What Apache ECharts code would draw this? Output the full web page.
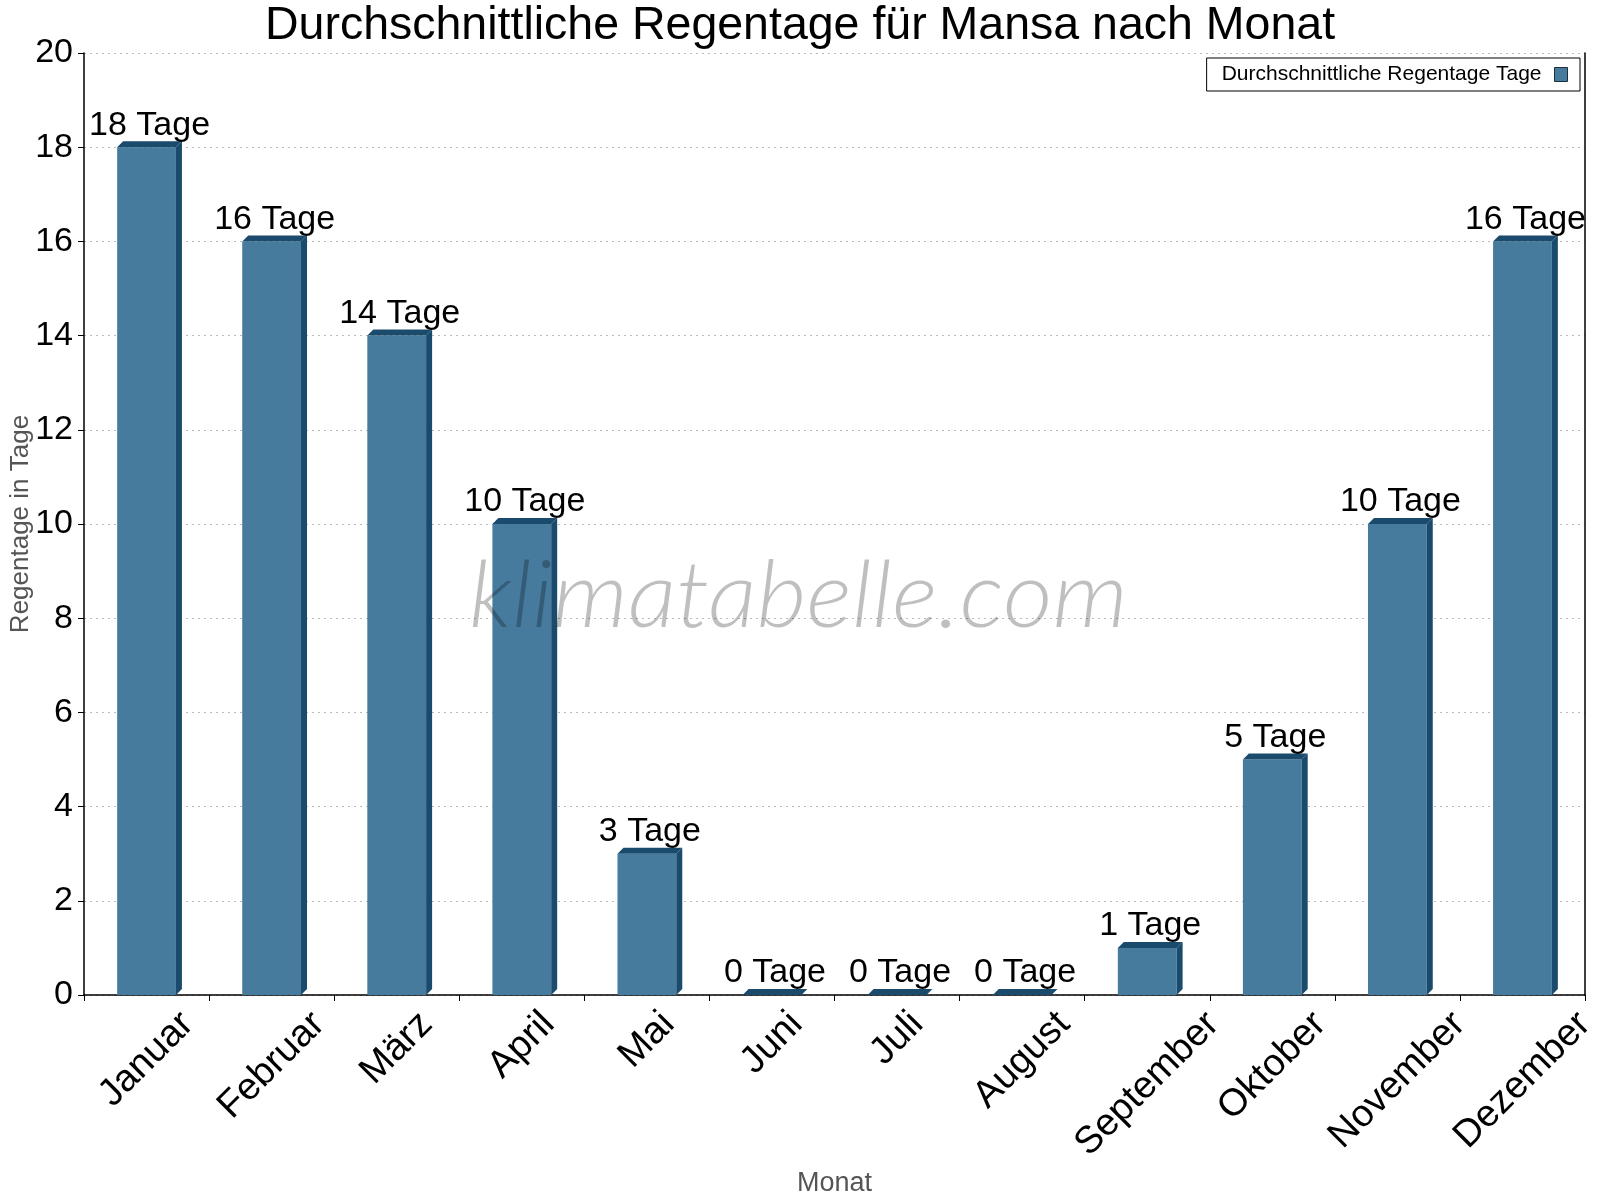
<!DOCTYPE html>
<html lang="de">
<head>
  <meta charset="UTF-8">
  <title>Regentage Mansa</title>
  <style>
    html, body { margin: 0; padding: 0; background: #fff; }
    #main { width: 1600px; height: 1200px; }
  </style>
</head>
<body>
  <div id="main"></div>
  <script src="https://cdn.jsdelivr.net/npm/echarts@6.0.0/dist/echarts.min.js"></script>
  <script>
    // Daten
    const months = ['Januar', 'Februar', 'März', 'April', 'Mai', 'Juni', 'Juli',
      'August', 'September', 'Oktober', 'November', 'Dezember'];
    const rainDays = [18, 16, 14, 10, 3, 0, 0, 0, 1, 5, 10, 16];
    const yMin = 0, yMax = 20, yStep = 2;
    const seriesName = 'Durchschnittliche Regentage Tage';

    const FONT = '"Liberation Sans", Arial, sans-serif';
    const front = '#467b9e';
    const dark = '#1a4b6d';
    const LBL = 34;      // Werte- und y-Beschriftung
    const XLBL = 38;     // Monatsnamen

    // rotierte Monatsnamen: Box oben bündig, horizontal zentriert
    const ctx = document.createElement('canvas').getContext('2d');
    ctx.font = XLBL + 'px "Liberation Sans"';
    const widths = months.map(m => ctx.measureText(m).width);
    const wMin = Math.min(...widths);
    const rich = {};
    months.forEach((m, i) => {
      const p = (widths[i] - wMin) / 2;
      rich['m' + i] = { padding: [p, p, 0, 0] };
    });
    const halfMin = 0.7071 * (wMin + XLBL) / 2;
    const labelMargin = 10 + halfMin;

    // Wasserzeichen auf Breite bringen
    const WM_FONT = 'italic 300 93px Lato';
    ctx.font = WM_FONT;
    const wmScale = 659 / ctx.measureText('klimatabelle.com').width;

    function renderBar(params, api) {
      const idx = api.value(0);
      const val = api.value(1);
      const top = api.coord([idx, val]);
      const base = api.coord([idx, 0]);
      const bw = api.size([1, 0])[0] * 0.47;
      const d = 6;
      const x0 = top[0] - bw / 2, x1 = x0 + bw;
      return {
        type: 'group',
        children: [
          { type: 'rect', shape: { x: x0, y: top[1], width: bw, height: base[1] - top[1] }, style: { fill: front } },
          { type: 'polygon', shape: { points: [[x1, top[1]], [x1 + d, top[1] - d], [x1 + d, base[1] - d], [x1, base[1]]] }, style: { fill: dark } },
          { type: 'polygon', shape: { points: [[x0, top[1]], [x0 + d, top[1] - d], [x1 + d, top[1] - d], [x1, top[1]]] }, style: { fill: dark } },
          { type: 'text', style: { text: val + ' Tage', x: top[0] + d / 2, y: top[1] - d + 1, align: 'center', verticalAlign: 'bottom', font: LBL + 'px ' + FONT, fill: '#000' } }
        ]
      };
    }

    const myChart = echarts.init(document.getElementById('main'));

    const option = {
      backgroundColor: '#fff',
      animation: false,
      title: {
        text: 'Durchschnittliche Regentage für Mansa nach Monat',
        left: 'center',
        top: 3,
        padding: 0,
        textStyle: { fontFamily: FONT, fontSize: 46.5, fontWeight: 'normal', color: '#000' }
      },
      legend: {
        data: [{ name: seriesName, icon: 'rect' }],
        right: 20,
        top: 58,
        align: 'right',
        itemWidth: 13,
        itemHeight: 14,
        padding: [6, 12, 6, 15],
        borderColor: '#000',
        borderWidth: 1,
        borderRadius: 0,
        backgroundColor: '#fff',
        itemStyle: { color: front, borderColor: '#1b2f3d', borderWidth: 1 },
        textStyle: { fontFamily: FONT, fontSize: 21, color: '#000', padding: [0, 8, 0, 0] }
      },
      grid: { left: 84, right: 15, top: 53, bottom: 205, outerBoundsMode: 'none', containLabel: false },
      graphic: [{
        type: 'text',
        z: 100,
        x: 469,
        y: 550,
        scaleX: wmScale,
        style: {
          text: 'klimatabelle.com',
          font: WM_FONT + ', "Liberation Sans", sans-serif',
          fill: 'rgba(0,0,0,0.25)'
        }
      }],
      xAxis: {
        type: 'category',
        data: months,
        name: 'Monat',
        nameLocation: 'middle',
        nameGap: 174,
        nameTextStyle: { fontFamily: FONT, fontSize: 27, color: '#555' },
        axisLine: { lineStyle: { color: '#000', width: 1.5 } },
        axisTick: { show: true, length: 6, lineStyle: { color: '#000' } },
        axisLabel: {
          interval: 0,
          rotate: 45,
          align: 'center',
          verticalAlign: 'middle',
          margin: labelMargin,
          fontFamily: FONT,
          fontSize: XLBL,
          color: '#000',
          formatter: (v, i) => '{m' + i + '|' + v + '}',
          rich: rich
        }
      },
      yAxis: [{
        type: 'value',
        min: yMin,
        max: yMax,
        interval: yStep,
        name: 'Regentage in Tage',
        nameLocation: 'middle',
        nameGap: 50,
        nameMoveOverlap: false,
        nameTextStyle: { fontFamily: FONT, fontSize: 26, color: '#555' },
        axisLine: { show: true, lineStyle: { color: '#000', width: 1.5 } },
        axisTick: { show: true, length: 6, lineStyle: { color: '#000' } },
        axisLabel: { margin: 11, fontFamily: FONT, fontSize: LBL, color: '#000' },
        splitLine: { show: true, lineStyle: { color: '#bbb', type: [2, 4] } }
      }, {
        type: 'value',
        position: 'right',
        min: yMin,
        max: yMax,
        interval: yStep,
        axisLine: { show: true, lineStyle: { color: '#000', width: 1.5 } },
        axisTick: { show: false },
        axisLabel: { show: false },
        splitLine: { show: false }
      }],
      series: [{
        name: seriesName,
        type: 'custom',
        renderItem: renderBar,
        itemStyle: { color: front },
        encode: { x: 0, y: 1 },
        data: rainDays.map((v, i) => [i, v])
      }]
    };

    myChart.setOption(option);
  </script>
</body>
</html>
